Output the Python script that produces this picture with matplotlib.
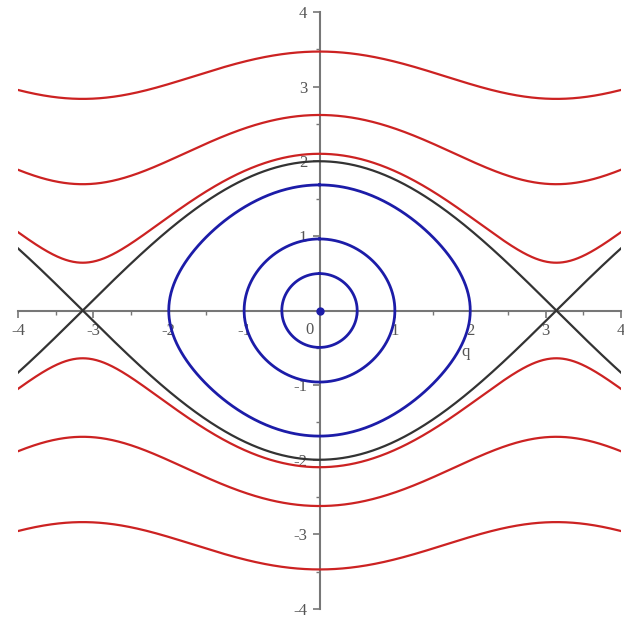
import numpy as np
import matplotlib.pyplot as plt
from matplotlib.ticker import MultipleLocator, FixedLocator

plt.rcParams['axes.unicode_minus'] = False

# pendulum H = p^2/2 - cos(q)
# rotating orbits, given by momentum at q = 0
rot_p0 = [2.10, 2.62, 3.47]
# librating orbits, given by turning point amplitude
lib_amp = [0.5, 1.0, 2.0]
tick_vals = [-4, -3, -2, -1, 1, 2, 3, 4]

red = '#cc2222'
blue = '#1c1ca8'
dark = '#333333'

fig = plt.figure(figsize=(6.24, 6.22), dpi=100)
ax = fig.add_axes([18/624, 13/622, 603/624, 597/622])

q = np.linspace(-4, 4, 800)

for p0 in rot_p0:
    H = p0**2 / 2 - 1
    p = np.sqrt(2 * (H + np.cos(q)))
    ax.plot(q, p, color=red, lw=1.6)
    ax.plot(q, -p, color=red, lw=1.6)

# separatrix through the hyperbolic points
sep = 2 * np.cos(q / 2)
ax.plot(q, sep, color=dark, lw=1.6)
ax.plot(q, -sep, color=dark, lw=1.6)

th = np.linspace(0, 2 * np.pi, 600)
for a in lib_amp:
    qq = a * np.sin(th)
    pp = np.sign(np.cos(th)) * np.sqrt(np.clip(2 * (np.cos(qq) - np.cos(a)), 0, None))
    ax.plot(qq, pp, color=blue, lw=2.0)

ax.plot([0], [0], 'o', color=blue, ms=5)

ax.set_xlim(-4, 4)
ax.set_ylim(-4, 4)
for s in ['top', 'right']:
    ax.spines[s].set_visible(False)
for s in ['left', 'bottom']:
    ax.spines[s].set_position('zero')
    ax.spines[s].set_color('#777777')
    ax.spines[s].set_linewidth(1.5)
ax.spines['left'].set_zorder(0)
ax.spines['bottom'].set_zorder(0)

ax.xaxis.set_major_locator(FixedLocator(tick_vals))
ax.yaxis.set_major_locator(FixedLocator(tick_vals))
ax.xaxis.set_minor_locator(MultipleLocator(0.5))
ax.yaxis.set_minor_locator(MultipleLocator(0.5))
ax.tick_params(which='major', length=5, width=1.2, color='#777777',
               labelsize=12, labelcolor='#555555', pad=4)
ax.tick_params(which='minor', length=3, width=1.0, color='#777777')
for lab in ax.get_xticklabels() + ax.get_yticklabels():
    lab.set_family('Liberation Serif')

ax.text(-0.08, -0.16, '0', ha='right', va='top', fontsize=12,
        color='#555555', family='Liberation Serif')
ax.text(1.94, -0.45, 'q', ha='center', va='top', fontsize=12,
        color='#555555', family='Liberation Serif')

fig.savefig('out.png', dpi=100)
